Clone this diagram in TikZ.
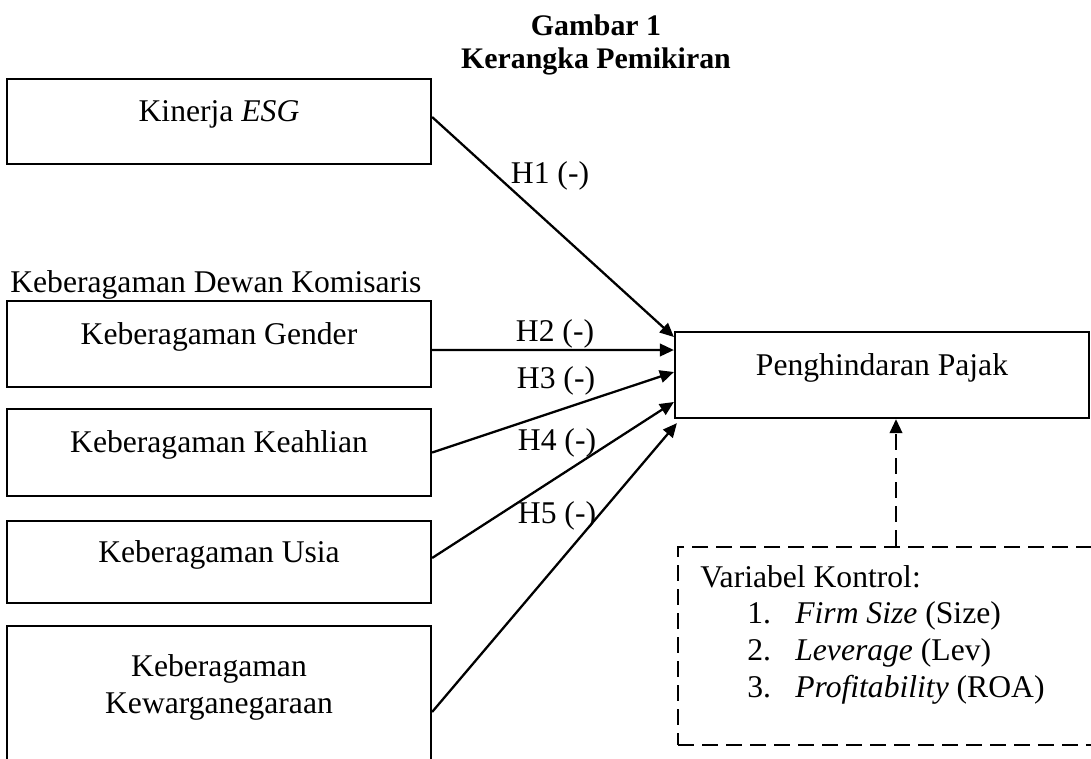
\documentclass[tikz,border=0pt]{standalone}
\usepackage{fontspec}
\setmainfont{Liberation Serif}
\usetikzlibrary{arrows.meta}
\tikzset{
  box/.style={draw, line width=1.3pt, inner sep=0pt, text height=0pt, text depth=0pt, font=\fontsize{18pt}{21pt}\selectfont},
  txt/.style={inner sep=0pt, font=\fontsize{18pt}{21pt}\selectfont},
  ttl/.style={inner sep=0pt, font=\fontsize{17pt}{20pt}\selectfont\bfseries},
  arr/.style={line width=1.3pt, -{Triangle[length=0.28cm,width=0.25cm]}},
  dsh/.style={line width=1.3pt, dash pattern=on 0.32cm off 0.16cm}
}
\begin{document}
\begin{tikzpicture}[x=0.02cm,y=-0.02cm]
\useasboundingbox (0,0) rectangle (1091,758);
\clip (0,0) rectangle (1091,758);
\fill[white] (0,0) rectangle (1091,758);
% title
\node[ttl, anchor=base] (t1) at (596,35) {Gambar 1};
\node[ttl, anchor=base] (t2) at (596,68) {Kerangka Pemikiran};
% left boxes
\node[box, minimum width=8.48cm, minimum height=1.70cm] (kin) at (219,121.5) {Kinerja \textit{ESG}};
\node[txt, anchor=base west] (dewan) at (10,292) {Keberagaman Dewan Komisaris};
\node[box, minimum width=8.48cm, minimum height=1.72cm] (gen) at (219,344) {Keberagaman Gender};
\node[box, minimum width=8.48cm, minimum height=1.74cm] (kea) at (219,452.5) {Keberagaman Keahlian};
\node[box, minimum width=8.48cm, minimum height=1.64cm] (usi) at (219,562) {Keberagaman Usia};
\node[box, minimum width=8.48cm, minimum height=3.5cm, anchor=north] (kew) at (219,625) {};
\node[txt, anchor=base] (kew1) at (219,676) {Keberagaman};
\node[txt, anchor=base] (kew2) at (219,713) {Kewarganegaraan};
% dependent
\node[box, minimum width=8.28cm, minimum height=1.72cm] (pp) at (882,375) {Penghindaran Pajak};
% control box
\node[box, dsh, minimum width=8.64cm, minimum height=3.96cm] (ctl) at (894,646) {};
\node[txt, anchor=base west] (v0) at (700,587) {Variabel Kontrol:};
\node[txt, anchor=base west] (v1) at (747,623) {\makebox[0.96cm][l]{1.}\textit{Firm Size} (Size)};
\node[txt, anchor=base west] (v2) at (747,660) {\makebox[0.96cm][l]{2.}\textit{Leverage} (Lev)};
\node[txt, anchor=base west] (v3) at (747,697) {\makebox[0.96cm][l]{3.}\textit{Profitability} (ROA)};
% arrows
\draw[arr] ([yshift=0.09cm]kin.east) -- ([yshift=0.76cm]pp.west);
\draw[arr] ([yshift=-0.12cm]gen.east) -- ([yshift=0.5cm]pp.west);
\draw[arr] (kea.east) -- ([yshift=0.06cm]pp.west);
\draw[arr] ([yshift=0.08cm]usi.east) -- ([yshift=-0.54cm]pp.west);
\draw[arr] ([yshift=-1.74cm]kew.north east) -- ([xshift=0.06cm,yshift=-0.08cm]pp.south west);
\coordinate (dtip) at ([xshift=0.28cm]pp.south);
\draw[arr, dsh] (ctl.north -| dtip) -- (dtip);
% labels
\node[txt, anchor=base] (h1) at (550,183) {H1 (-)};
\node[txt, anchor=base] (h2) at (555,341) {H2 (-)};
\node[txt, anchor=base] (h3) at (556,388) {H3 (-)};
\node[txt, anchor=base] (h4) at (557,450) {H4 (-)};
\node[txt, anchor=base] (h5) at (557,523) {H5 (-)};
\end{tikzpicture}
\end{document}
